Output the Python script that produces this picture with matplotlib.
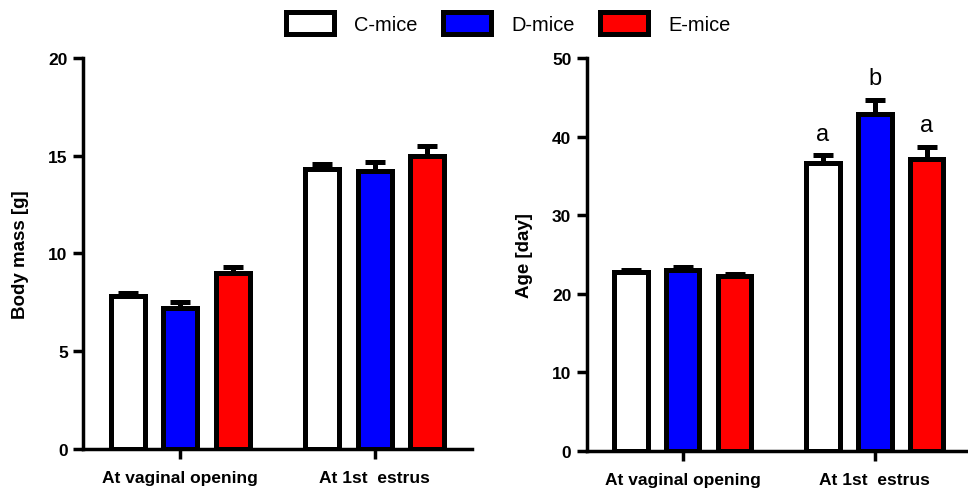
import matplotlib.pyplot as plt
import numpy as np
from matplotlib.patches import Patch

plt.rcParams['font.family'] = ['Liberation Sans', 'DejaVu Sans']

groups = ["At vaginal opening", "At 1st  estrus"]
series = ["C-mice", "D-mice", "E-mice"]
colors = ["#ffffff", "#0000ff", "#ff0000"]

# body mass [g]
mass_mean = [[7.8, 14.3], [7.2, 14.2], [9.0, 15.0]]
mass_err = [[0.2, 0.3], [0.3, 0.5], [0.3, 0.5]]

# age [day]
age_mean = [[22.7, 36.6], [23.0, 42.9], [22.2, 37.1]]
age_err = [[0.3, 1.0], [0.35, 1.8], [0.35, 1.6]]
age_letters = [["", "a"], ["", "b"], ["", "a"]]

fig = plt.figure(figsize=(9.68, 4.89), dpi=100)
ax1 = fig.add_axes([0.0857, 0.0798, 0.402, 0.7996])
ax2 = fig.add_axes([0.606, 0.0763, 0.393, 0.803])

x = np.arange(len(groups))
offsets = [-0.27, 0.0, 0.27]
width = 0.175
lw = 3.6


def draw(ax, means, errs, ylim, yticks, ylabel):
    for i in range(len(series)):
        pos = x + offsets[i]
        ax.errorbar(pos, means[i], yerr=[np.zeros(len(x)), errs[i]], fmt="none",
                    ecolor="black", elinewidth=lw, capsize=7.5, capthick=lw, zorder=1)
        ax.bar(pos, means[i], width=width, color=colors[i], edgecolor="black",
               linewidth=lw, zorder=2)
    ax.set_xlim(-0.5, 1.5)
    ax.set_ylim(*ylim)
    ax.set_yticks(yticks)
    ax.set_xticks(x)
    ax.set_xticklabels(groups, fontsize=12.5, fontweight="bold")
    ax.set_yticklabels([str(t) for t in yticks], fontsize=12.5, fontweight="bold")
    ax.set_ylabel(ylabel, fontsize=13.5, fontweight="bold", labelpad=14)
    for s in ["top", "right"]:
        ax.spines[s].set_visible(False)
    for s in ["left", "bottom"]:
        ax.spines[s].set_linewidth(2.5)
    ax.tick_params(axis="both", length=7, width=2.5, pad=4)
    ax.tick_params(axis="x", pad=8)


draw(ax1, mass_mean, mass_err, (0, 20), [0, 5, 10, 15, 20], "Body mass [g]")
draw(ax2, age_mean, age_err, (0, 50), [0, 10, 20, 30, 40, 50], "Age [day]")
ax2.set_xlim(-0.5, 1.48)

for i in range(len(series)):
    for j in range(len(groups)):
        if age_letters[i][j]:
            ax2.text(x[j] + offsets[i], age_mean[i][j] + age_err[i][j] + 2.0,
                     age_letters[i][j], ha="center", va="baseline", fontsize=17)

handles = [Patch(facecolor=c, edgecolor="black", linewidth=lw) for c in colors]
fig.legend(handles, series, loc="center", bbox_to_anchor=(0.525, 0.951), ncol=3,
           frameon=False, fontsize=14.4, handlelength=2.4, handleheight=1.3,
           handletextpad=1.0, columnspacing=1.3)

fig.savefig("out.png", dpi=100)
